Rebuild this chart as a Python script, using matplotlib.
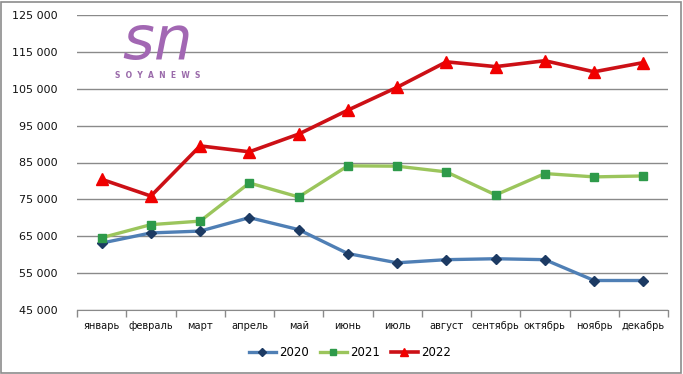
import matplotlib.pyplot as plt
from matplotlib.patches import Rectangle
from matplotlib.ticker import FixedLocator, FuncFormatter

months = ['январь', 'февраль', 'март', 'апрель', 'май', 'июнь', 'июль',
          'август', 'сентябрь', 'октябрь', 'ноябрь', 'декабрь']
y2020 = [63150, 65900, 66400, 70050, 66800, 60300, 57800, 58650, 58900, 58650, 53000, 53000]
y2021 = [64600, 68150, 69100, 79450, 75650, 84100, 84000, 82450, 76200, 82000, 81100, 81350]
y2022 = [80450, 75900, 89500, 87900, 92700, 99200, 105400, 112300, 111000, 112600, 109600, 112100]
yticks = list(range(45000, 125001, 10000))

plt.rcParams['font.family'] = ['DejaVu Sans']

fig = plt.figure(figsize=(6.83, 3.74), dpi=100)
ax = fig.add_axes([77 / 683, 1 - 310 / 374, (668 - 77) / 683, (310 - 15) / 374])

# border round the whole picture
fig.patches.append(Rectangle((0.002, 0.004), 0.995, 0.99, transform=fig.transFigure,
                             fill=False, edgecolor='#8c8c8c', linewidth=1.2))

x = list(range(len(months)))
ax.plot(x, y2020, color='#4f7fb5', lw=2.4, marker='D', ms=5,
        mfc='#1c3a63', mec='#1c3a63', label='2020', zorder=3)
ax.plot(x, y2021, color='#9bc55c', lw=2.4, marker='s', ms=5.5,
        mfc='#2e9a4a', mec='#2e9a4a', label='2021', zorder=3)
ax.plot(x, y2022, color='#cc1016', lw=2.6, marker='^', ms=8,
        mfc='#f00000', mec='#f00000', label='2022', zorder=4)

ax.set_xlim(-0.5, 11.5)
ax.set_ylim(45000, 125000)
ax.set_yticks(yticks)
ax.yaxis.set_major_formatter(FuncFormatter(lambda v, p: f'{int(v):,}'.replace(',', ' ')))
ax.yaxis.grid(True, color='#8a8a8a', lw=1)
ax.set_axisbelow(True)
ax.tick_params(axis='y', length=0, labelsize=8, pad=14, labelcolor='#111111')

ax.set_xticks(x)
ax.set_xticklabels(months)
ax.xaxis.set_minor_locator(FixedLocator([i - 0.5 for i in range(13)]))
ax.tick_params(axis='x', which='major', length=0, labelsize=7.1, pad=8, labelcolor='#111111')
ax.tick_params(axis='x', which='minor', length=5, color='#8a8a8a', width=1)

for s in ['top', 'right', 'left']:
    ax.spines[s].set_visible(False)
ax.spines['bottom'].set_color('#8a8a8a')

leg = ax.legend(loc='center', bbox_to_anchor=(0.462, -0.145), ncol=3, frameon=False,
                fontsize=8.5, handlelength=2.3, columnspacing=0.9, handletextpad=0.3,
                markerscale=0.75)

# logo
fig.text(158 / 683, 1 - 42 / 374, 'sn', color='#a267b3', fontsize=44, style='italic',
         ha='center', va='center', family='DejaVu Sans')
fig.text(158 / 683, 1 - 75 / 374, 'S  O  Y  A  N  E  W  S', color='#9a6aaa', fontsize=5.5,
         weight='bold', ha='center', va='center')

fig.savefig('out.png', dpi=100)
